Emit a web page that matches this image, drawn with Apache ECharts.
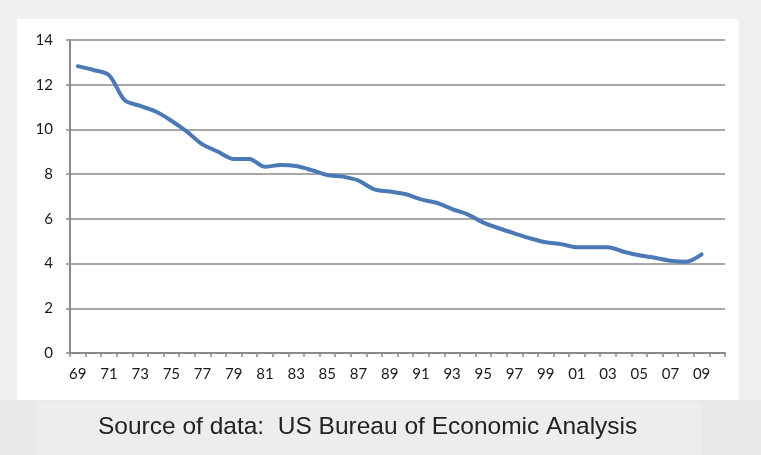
<!DOCTYPE html>
<html>
<head>
<meta charset="utf-8">
<script src="https://cdn.jsdelivr.net/npm/echarts@6/dist/echarts.min.js"></script>
<style>
  html, body { margin: 0; padding: 0; background: #efefef; }
  #chart { width: 761px; height: 455px; }
</style>
</head>
<body>
<div id="chart"></div>
<script>
// Years 1969–2010 as two-digit labels (2010 has no value yet)
const years = ['69','70','71','72','73','74','75','76','77','78','79','80','81','82','83','84','85','86','87','88',
               '89','90','91','92','93','94','95','96','97','98','99','00','01','02','03','04','05','06','07','08','09','10'];

const values = [12.83, 12.66, 12.43, 11.31, 11.05, 10.8, 10.39, 9.9, 9.33, 9.0,
                8.68, 8.68, 8.33, 8.41, 8.36, 8.18, 7.96, 7.89, 7.71, 7.32,
                7.22, 7.11, 6.87, 6.72, 6.44, 6.2, 5.83, 5.58, 5.35, 5.13,
                4.95, 4.87, 4.73, 4.73, 4.73, 4.53, 4.37, 4.26, 4.13, 4.08,
                4.41];

const yTicks = { min: 0, max: 14, step: 2 };
const sourceNote = 'Source of data:  US Bureau of Economic Analysis';

const chart = echarts.init(document.getElementById('chart'), null, { renderer: 'canvas' });

chart.setOption({
  backgroundColor: '#efefef',
  animation: false,
  graphic: [
    { type: 'rect', z: -10, shape: { x: 17, y: 19, width: 722, height: 381 }, style: { fill: '#ffffff' } },
    { type: 'rect', z: -10, shape: { x: 0, y: 400, width: 761, height: 55 }, style: { fill: '#e9e9e9' } },
    { type: 'rect', z: -9, shape: { x: 36, y: 402, width: 665, height: 53 }, style: { fill: '#ededed' } },
    {
      type: 'text', left: 98, top: 415,
      style: { text: sourceNote, fill: '#222222', font: '24.5px "Liberation Sans", Arial, sans-serif' }
    }
  ],
  grid: { left: 70, right: 36, top: 40, bottom: 102 },
  xAxis: {
    type: 'category',
    data: years,
    boundaryGap: true,
    axisLine: { lineStyle: { color: '#8a8a8a', width: 2 } },
    axisTick: { show: true, length: 4, alignWithLabel: false, interval: 0, lineStyle: { color: '#8a8a8a', width: 1.5 } },
    axisLabel: { interval: 1, margin: 14, color: '#1a1a1a', fontSize: 15, fontFamily: 'Lato, "Open Sans", sans-serif' },
    splitLine: { show: false }
  },
  yAxis: {
    type: 'value',
    min: yTicks.min, max: yTicks.max, interval: yTicks.step,
    axisLine: { show: true, lineStyle: { color: '#8a8a8a', width: 2 } },
    axisTick: { show: true, length: 4, lineStyle: { color: '#8a8a8a', width: 1.5 } },
    axisLabel: { margin: 17, color: '#1a1a1a', fontSize: 15, fontFamily: 'Lato, "Open Sans", sans-serif' },
    splitLine: { lineStyle: { color: '#8a8a8a', width: 1.6 } }
  },
  series: [{
    type: 'line',
    data: values,
    smooth: 0.3,
    showSymbol: false,
    lineStyle: { color: '#4a79b6', width: 4, cap: 'round', join: 'round' },
    itemStyle: { color: '#4a79b6' }
  }]
});
</script>
</body>
</html>
